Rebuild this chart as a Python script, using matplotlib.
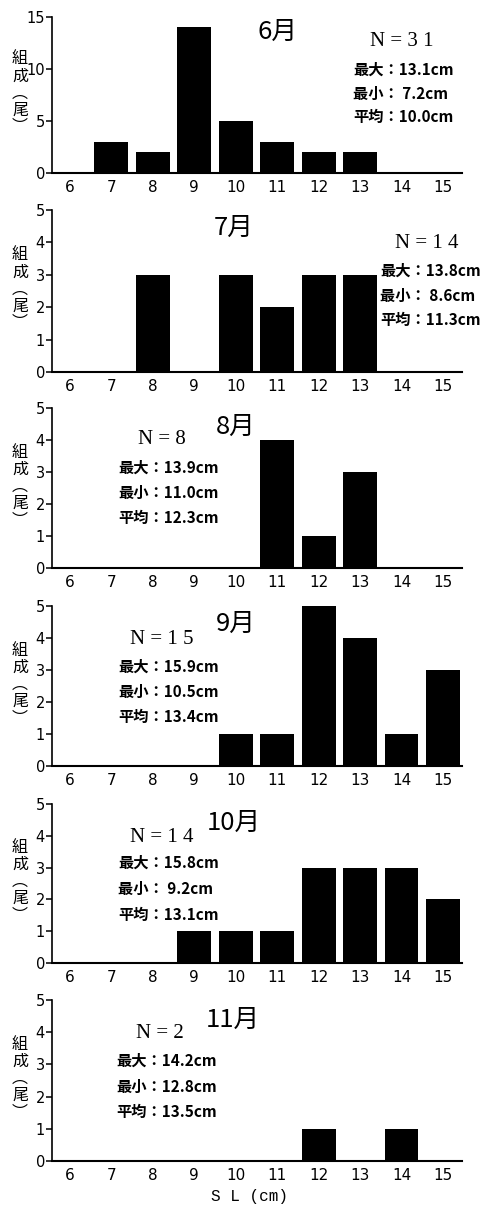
import matplotlib
matplotlib.use("Agg")
import matplotlib.pyplot as plt

# ---- data -------------------------------------------------------------
size_classes = [6, 7, 8, 9, 10, 11, 12, 13, 14, 15]
months = ["6月", "7月", "8月", "9月", "10月", "11月"]
counts_jun = [0, 3, 2, 14, 5, 3, 2, 2, 0, 0]
counts_jul = [0, 0, 3, 0, 3, 2, 3, 3, 0, 0]
counts_aug = [0, 0, 0, 0, 0, 4, 1, 3, 0, 0]
counts_sep = [0, 0, 0, 0, 1, 1, 5, 4, 1, 3]
counts_oct = [0, 0, 0, 1, 1, 1, 3, 3, 3, 2]
counts_nov = [0, 0, 0, 0, 0, 0, 1, 0, 1, 0]
sl_max = [13.1, 13.8, 13.9, 15.9, 15.8, 14.2]
sl_min = [7.2, 8.6, 11.0, 10.5, 9.2, 12.8]
sl_mean = [10.0, 11.3, 12.3, 13.4, 13.1, 13.5]
y_limits = [15, 5, 5, 5, 5, 5]
y_tick_steps = [5, 1, 1, 1, 1, 1]

all_counts = [counts_jun, counts_jul, counts_aug, counts_sep, counts_oct, counts_nov]

# ---- layout (pixels on a 488 x 1206 canvas) ---------------------------
W, H = 488, 1206
AX_LEFT, AX_RIGHT = 52, 462
panel_top = [17, 210, 408, 606, 804, 1000]
panel_bot = [173, 372, 568, 766, 963, 1161]
title_xy = [(278, 32), (234, 228), (236, 427), (236, 624), (234, 823), (233, 1020)]
n_xy = [(402, 41), (427, 243), (162, 440), (162, 639), (162, 837), (160, 1033)]
stats_x = [353, 380, 118, 118, 118, 116]
stats_y0 = [70, 271, 468, 667, 863, 1061]
stats_dy = [23.5, 24.5, 25, 25, 26, 25.5]


def fx(px):
    return px / W


def fy(py):
    return 1 - py / H


TICK_FONT = ["Liberation Sans Narrow", "DejaVu Sans"]
CJK_FONT = ["Noto Sans CJK JP", "DejaVu Sans"]

fig = plt.figure(figsize=(W / 100, H / 100), dpi=100)
fig.patch.set_facecolor("white")

for i, counts in enumerate(all_counts):
    top, bot = panel_top[i], panel_bot[i]
    ax = fig.add_axes([fx(AX_LEFT), fy(bot), (AX_RIGHT - AX_LEFT) / W, (bot - top) / H])
    ax.bar(size_classes, counts, width=0.82, color="black", edgecolor="black", linewidth=0)
    ax.set_xlim(5.565, 15.46)
    ax.set_ylim(0, y_limits[i])
    ax.set_yticks(range(0, y_limits[i] + 1, y_tick_steps[i]))
    ax.set_xticks(size_classes)
    ax.set_xticklabels([str(s) for s in size_classes], family=TICK_FONT, fontsize=11)
    ax.set_yticklabels([str(v) for v in range(0, y_limits[i] + 1, y_tick_steps[i])],
                       family=TICK_FONT, fontsize=10.5)
    for side in ("top", "right"):
        ax.spines[side].set_visible(False)
    ax.spines["left"].set_linewidth(1.2)
    ax.spines["bottom"].set_linewidth(1.5)
    ax.tick_params(axis="x", length=0, pad=5)
    ax.tick_params(axis="y", direction="out", length=4, width=1.1, pad=1)
    ax.set_facecolor("none")

    # vertical axis caption
    fig.text(fx(20), fy((top + bot) / 2 - 2), "組\n成\n︵\n尾\n︶", family=CJK_FONT,
             fontsize=11.5, ha="center", va="center", linespacing=1.0)

    # month title
    tx, ty = title_xy[i]
    fig.text(fx(tx), fy(ty), months[i], family=CJK_FONT, fontsize=18.5,
             ha="center", va="center")

    # sample size
    n = sum(counts)
    nx, ny = n_xy[i]
    fig.text(fx(nx), fy(ny), "N = " + " ".join(str(n)), family=["Liberation Serif"],
             fontsize=15, ha="center", va="center")

    # length statistics
    lines = [f"最大：{sl_max[i]:4.1f}cm", f"最小：{sl_min[i]:4.1f}cm", f"平均：{sl_mean[i]:4.1f}cm"]
    for k, line in enumerate(lines):
        fig.text(fx(stats_x[i]), fy(stats_y0[i] + k * stats_dy[i]), line,
                 family=CJK_FONT, fontsize=11, fontweight="bold", ha="left", va="center")

fig.text(fx(250), fy(1196), "S L (cm)", family=["Liberation Mono", "DejaVu Sans Mono"],
         fontsize=11.5, ha="center", va="center")

fig.savefig("out.png", dpi=100, facecolor="white")
